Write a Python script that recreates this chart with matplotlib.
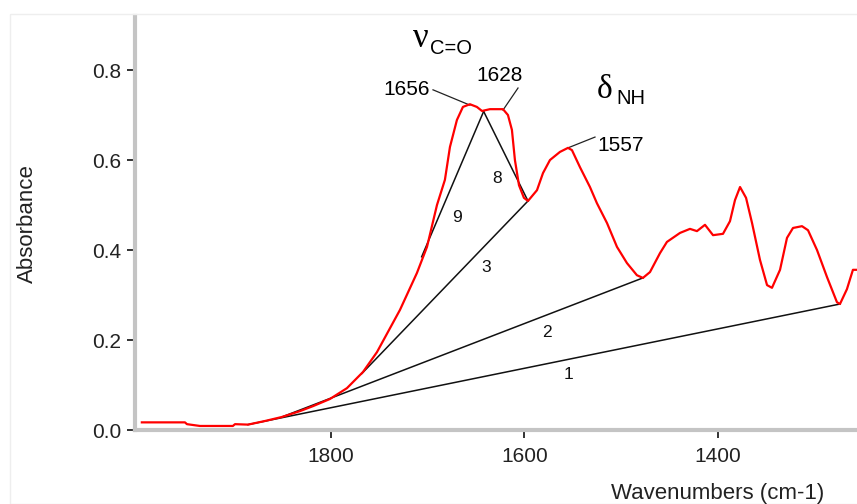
#!/usr/bin/env python3
# --------------------------------------------------------------------------- #
#   IR absorbance spectrum (amide region) with peak-area baselines 1,2,3,8,9  #
# --------------------------------------------------------------------------- #
import matplotlib
matplotlib.use('Agg')
import matplotlib.pyplot as plt
from matplotlib.ticker import MultipleLocator, FixedLocator, FormatStrFormatter
from matplotlib.patches import Rectangle

# --------------------------------------------------------------------------- #
# Spectrum.
wavenumber = [1995, 1950.5, 1948.4, 1935, 1901, 1898.8, 1885.4, 1867.9, 1850.3,
              1831.7, 1818.3, 1800.7, 1783.2, 1766.6, 1752.2, 1728.4, 1710.9,
              1700.5, 1690.2, 1682, 1676.8, 1669.6, 1663.4, 1656.2, 1649,
              1643.7, 1635.5, 1622, 1616.9, 1612.8, 1609.7, 1605.5, 1600.4,
              1596.2, 1586.9, 1580.7, 1573.5, 1563.2, 1554.9, 1550.8, 1542.5,
              1532.2, 1525, 1514.6, 1504.3, 1494, 1483.7, 1477.5, 1470.2,
              1459.9, 1452.7, 1439.2, 1428.9, 1421.7, 1413.4, 1405.1, 1394.8,
              1387.6, 1382.4, 1377.2, 1371, 1364.8, 1356.6, 1349.3, 1344.2,
              1335.9, 1328.7, 1322.5, 1313.2, 1307, 1297.7, 1287.4, 1277.1,
              1274, 1266.8, 1260.6, 1256.5]
absorbance = [0.017, 0.017, 0.013, 0.009, 0.009, 0.013, 0.012, 0.020, 0.029,
              0.042, 0.053, 0.069, 0.093, 0.129, 0.173, 0.267, 0.349, 0.407,
              0.500, 0.556, 0.629, 0.689, 0.718, 0.724, 0.718, 0.709, 0.713,
              0.713, 0.700, 0.667, 0.600, 0.544, 0.516, 0.509, 0.533, 0.571,
              0.600, 0.618, 0.627, 0.622, 0.584, 0.540, 0.504, 0.460, 0.407,
              0.371, 0.344, 0.338, 0.351, 0.393, 0.418, 0.438, 0.447, 0.442,
              0.456, 0.433, 0.436, 0.464, 0.511, 0.540, 0.516, 0.460, 0.378,
              0.322, 0.316, 0.356, 0.427, 0.449, 0.453, 0.444, 0.400, 0.340,
              0.284, 0.280, 0.313, 0.356, 0.356]

# Baselines used for the peak areas.
base_names = ['1', '2', '3', '8', '9']
base_wn0 = [1885.4, 1850.3, 1768.0, 1642.0, 1706.0]
base_ab0 = [0.012, 0.029, 0.125, 0.708, 0.385]
base_wn1 = [1274.0, 1477.5, 1596.2, 1596.2, 1642.0]
base_ab1 = [0.280, 0.338, 0.509, 0.509, 0.708]

# Labelled peaks.
peak_names = ['1656', '1628', '1557']
peak_wn = [1656.2, 1622.0, 1554.9]
peak_ab = [0.722, 0.711, 0.627]

# Axis ticks.
x_major = [1800, 1600, 1400]

# --------------------------------------------------------------------------- #
fig = plt.figure(figsize=(8.57, 5.04), dpi=100)
ax = fig.add_axes([0.1575, 0.1468, 0.8425, 0.8214])

# Faint frame round the picture.
fig.patches.append(Rectangle((10 / 857., 0.0), 1.0, 1 - 14 / 504., transform=fig.transFigure,
                             fill=False, edgecolor='#eeeeee', linewidth=1.0))

# Baselines and the spectrum.
for i in range(len(base_names)):
    ax.plot([base_wn0[i], base_wn1[i]], [base_ab0[i], base_ab1[i]],
            color='#111111', linewidth=1.1, zorder=2)
ax.plot(wavenumber, absorbance, color='#ff0000', linewidth=1.6, zorder=3)

# Numbers on the baselines.
num_pos = {'1': (1554.2, 0.124), '2': (1576.9, 0.216), '3': (1639.6, 0.361),
           '8': (1628.6, 0.560), '9': (1669.2, 0.472)}
for name in base_names:
    ax.text(num_pos[name][0], num_pos[name][1], name, fontsize=12.5,
            family='Liberation Sans', ha='center', va='center', color='#111111')

# Peak labels with leader lines.
lead_from = [(1694.3, 0.756), (1606.5, 0.760), (1527.0, 0.651)]
text_pos = [(1697.4, 0.756, 'right'), (1625.2, 0.787, 'center'), (1525.0, 0.633, 'left')]
for i in range(len(peak_names)):
    ax.plot([lead_from[i][0], peak_wn[i]], [lead_from[i][1], peak_ab[i]],
            color='#222222', linewidth=0.9, zorder=2)
    ax.text(text_pos[i][0], text_pos[i][1], peak_names[i], fontsize=15,
            family='Liberation Sans', ha=text_pos[i][2], va='center')

# Band assignments.
ax.text(1714.8, 0.851, '\u03bd', fontsize=25, family='Liberation Serif',
        ha='left', va='baseline')
ax.text(1697.0, 0.835, 'C=O', fontsize=14.5, family='Liberation Sans',
        ha='left', va='baseline')
ax.text(1524.7, 0.738, '\u03b4', fontsize=24, family='Liberation Serif',
        ha='left', va='baseline')
ax.text(1505.2, 0.724, 'NH', fontsize=14.5, family='Liberation Sans',
        ha='left', va='baseline')

# Axes limits and ticks.
ax.set_xlim(2002.1, 1256.4)
ax.set_ylim(0.0, 0.92)
ax.xaxis.set_major_locator(FixedLocator(x_major))
ax.xaxis.set_minor_locator(MultipleLocator(50))
ax.yaxis.set_major_locator(MultipleLocator(0.2))
ax.yaxis.set_minor_locator(MultipleLocator(0.04))
ax.yaxis.set_major_formatter(FormatStrFormatter('%.1f'))

for side in ['top', 'right']:
    ax.spines[side].set_visible(False)
for side in ['left', 'bottom']:
    ax.spines[side].set_color('#c4c4c4')
    ax.spines[side].set_linewidth(3.0)

ax.tick_params(which='major', direction='out', length=6, width=1.3,
               color='#222222', labelsize=15, pad=4)
ax.tick_params(axis='x', which='major', pad=6)
ax.tick_params(which='minor', direction='inout', length=2.2, width=1.6,
               color='#222222')
for lab in ax.get_xticklabels() + ax.get_yticklabels():
    lab.set_family('Liberation Sans')
    lab.set_color('#222222')
fig.canvas.draw()
ax.get_yticklabels()[0].set_va('bottom')

# Axis titles.
fig.text(27 / 857., 1 - 224 / 504., 'Absorbance', rotation=90, fontsize=16,
         family='Liberation Sans', ha='center', va='center', color='#222222')
fig.text(718 / 857., 1 - 493 / 504., 'Wavenumbers (cm-1)', fontsize=16,
         family='Liberation Sans', ha='center', va='center', color='#222222')

plt.savefig('out.png', dpi=100)
